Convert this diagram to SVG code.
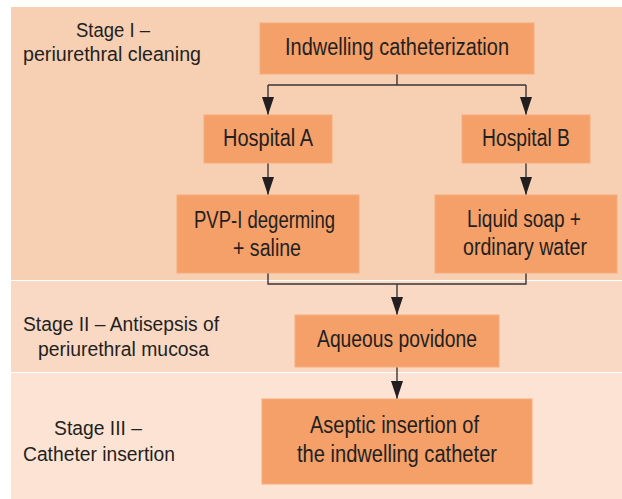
<svg xmlns="http://www.w3.org/2000/svg" width="622" height="499" viewBox="0 0 622 499">
<defs>
<style>
.band1{fill:#F7CFB2}
.band2{fill:#F9D9C4}
.band3{fill:#FCE3D4}
.box{fill:#F4A068;stroke:#F6AE7E;stroke-width:1}
.t{font-family:"Liberation Sans Narrow","Liberation Sans",Arial,sans-serif;fill:#231F20}
.n{font-size:23.5px}
.s{font-size:20px}
.c{fill:none;stroke:#3A3536;stroke-width:1.4}
</style>
<marker id="ah" viewBox="0 -6 18 12" refX="18" refY="0" markerWidth="18" markerHeight="12" markerUnits="userSpaceOnUse" orient="auto">
<path d="M0,-6 L18,0 L0,6 z" fill="#231F20"/>
</marker>
</defs>
<rect width="622" height="499" fill="#FFFFFF"/>
<g id="bands">
<rect class="band1" x="11" y="7" width="611" height="273"/>
<rect class="band2" x="11" y="281" width="611" height="91"/>
<rect class="band3" x="11" y="373" width="611" height="126"/>
</g>
<g id="stage1">
<text class="t s" x="76" y="37" textLength="74" lengthAdjust="spacingAndGlyphs">Stage I –</text>
<text class="t s" x="23" y="61" textLength="178" lengthAdjust="spacingAndGlyphs">periurethral cleaning</text>
</g>
<g id="stage2">
<text class="t s" x="23" y="331" textLength="196" lengthAdjust="spacingAndGlyphs">Stage II – Antisepsis of</text>
<text class="t s" x="38" y="356" textLength="171" lengthAdjust="spacingAndGlyphs">periurethral mucosa</text>
</g>
<g id="stage3">
<text class="t s" x="54" y="435" textLength="88" lengthAdjust="spacingAndGlyphs">Stage III –</text>
<text class="t s" x="23" y="461" textLength="152" lengthAdjust="spacingAndGlyphs">Catheter insertion</text>
</g>
<g id="connectors">
<path class="c" d="M397,74 V85"/>
<path class="c" d="M268,85 H526"/>
<path class="c" d="M268,85 V115" marker-end="url(#ah)"/>
<path class="c" d="M526,85 V115" marker-end="url(#ah)"/>
<path class="c" d="M268,163 V195" marker-end="url(#ah)"/>
<path class="c" d="M526,163 V195" marker-end="url(#ah)"/>
<path class="c" d="M268,273 V284 H526 V273"/>
<path class="c" d="M397,284 V315" marker-end="url(#ah)"/>
<path class="c" d="M397,367 V399" marker-end="url(#ah)"/>
</g>
<g id="indwelling">
<rect class="box" x="260" y="23" width="274" height="51"/>
<text class="t n" x="285" y="55" textLength="224" lengthAdjust="spacingAndGlyphs">Indwelling catheterization</text>
</g>
<g id="hospitalA">
<rect class="box" x="204" y="115" width="128" height="48"/>
<text class="t n" x="223" y="146" textLength="90" lengthAdjust="spacingAndGlyphs">Hospital A</text>
</g>
<g id="hospitalB">
<rect class="box" x="462" y="115" width="128" height="48"/>
<text class="t n" x="482" y="146" textLength="88" lengthAdjust="spacingAndGlyphs">Hospital B</text>
</g>
<g id="pvpi">
<rect class="box" x="177" y="195" width="182" height="78"/>
<text class="t n" x="194" y="228" textLength="141" lengthAdjust="spacingAndGlyphs">PVP-I degerming</text>
<text class="t n" x="233" y="256" textLength="68" lengthAdjust="spacingAndGlyphs">+ saline</text>
</g>
<g id="liquidsoap">
<rect class="box" x="435" y="195" width="182" height="78"/>
<text class="t n" x="467" y="227" textLength="114" lengthAdjust="spacingAndGlyphs">Liquid soap +</text>
<text class="t n" x="463" y="255" textLength="124" lengthAdjust="spacingAndGlyphs">ordinary water</text>
</g>
<g id="aqueous">
<rect class="box" x="295" y="315" width="204" height="52"/>
<text class="t n" x="317" y="347" textLength="160" lengthAdjust="spacingAndGlyphs">Aqueous povidone</text>
</g>
<g id="aseptic">
<rect class="box" x="262" y="399" width="270" height="85"/>
<text class="t n" x="310" y="433" textLength="169" lengthAdjust="spacingAndGlyphs">Aseptic insertion of</text>
<text class="t n" x="297" y="462" textLength="200" lengthAdjust="spacingAndGlyphs">the indwelling catheter</text>
</g>
</svg>
